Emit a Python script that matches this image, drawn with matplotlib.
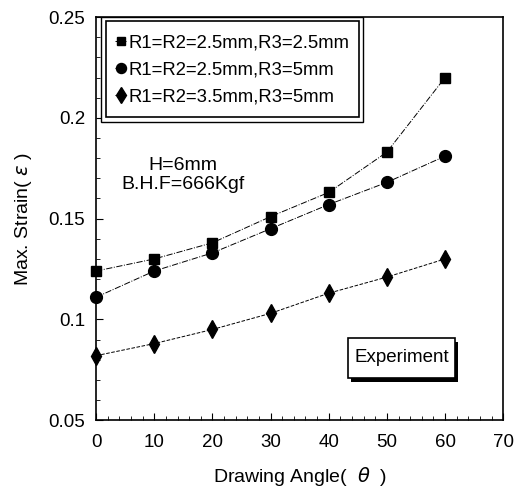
import matplotlib.pyplot as plt
from matplotlib.patches import Rectangle
from matplotlib.ticker import MultipleLocator

plt.rcParams['font.family'] = ['Liberation Sans', 'DejaVu Sans']

# drawing angle (deg)
angle = [0, 10, 20, 30, 40, 50, 60]

# max strain for each die radius combination
strain_sq = [0.124, 0.130, 0.138, 0.151, 0.163, 0.183, 0.220]
strain_ci = [0.111, 0.124, 0.133, 0.145, 0.157, 0.168, 0.181]
strain_di = [0.082, 0.088, 0.095, 0.103, 0.113, 0.121, 0.130]

labels = ['R1=R2=2.5mm,R3=2.5mm', 'R1=R2=2.5mm,R3=5mm', 'R1=R2=3.5mm,R3=5mm']

fig = plt.figure(figsize=(5.14, 4.88), dpi=100)
ax = fig.add_axes([0.187, 0.139, 0.792, 0.826])

ax.plot(angle, strain_sq, color='black', lw=0.7, ls='-.', marker='s', ms=6.5, label=labels[0], clip_on=False)
ax.plot(angle, strain_ci, color='black', lw=0.7, ls='-.', marker='o', ms=8.5, label=labels[1], clip_on=False)
ax.plot(angle, strain_di, color='black', lw=0.7, ls='--', marker='d', ms=9, label=labels[2], clip_on=False)

ax.set_xlim(0, 70)
ax.set_ylim(0.05, 0.25)
ax.set_xticks([0, 10, 20, 30, 40, 50, 60, 70])
ax.set_yticks([0.05, 0.1, 0.15, 0.2, 0.25])
ax.set_yticklabels(['0.05', '0.1', '0.15', '0.2', '0.25'])
ax.xaxis.set_minor_locator(MultipleLocator(2))
ax.yaxis.set_minor_locator(MultipleLocator(0.01))
ax.tick_params(which='both', direction='in', labelsize=13.5)
ax.tick_params(which='major', length=5)
ax.tick_params(which='minor', length=3)
ax.tick_params(axis='x', pad=10)
ax.tick_params(axis='y', pad=8)
for s in ax.spines.values():
    s.set_linewidth(1.2)

ax.set_xlabel('Drawing Angle(  $\\theta$  )', fontsize=14, labelpad=10)
ax.set_ylabel('Max. Strain( $\\epsilon$ )', fontsize=14, labelpad=10)

# legend with double frame
ax.add_patch(Rectangle((0.012, 0.739), 0.644, 0.261, transform=ax.transAxes,
                       fc='white', lw=1.0, ec='black', zorder=5))
ax.add_patch(Rectangle((0.025, 0.752), 0.620, 0.238, transform=ax.transAxes,
                       fill=False, lw=1.2, ec='black', zorder=6))
leg = ax.legend(loc='upper left', bbox_to_anchor=(0.047, 0.957), fontsize=13.3,
                frameon=False, handlelength=0.6, handletextpad=0.12, borderpad=0,
                labelspacing=0.54, borderaxespad=0, markerscale=0.85)
leg.set_zorder(7)

ax.text(0.214, 0.608, 'H=6mm\nB.H.F=666Kgf', transform=ax.transAxes, ha='center', va='center',
        fontsize=14, linespacing=1.2)

# boxed label with drop shadow
ax.add_patch(Rectangle((0.627, 0.094), 0.263, 0.099, transform=ax.transAxes, fc='black', ec='none', zorder=4))
ax.add_patch(Rectangle((0.619, 0.104), 0.263, 0.099, transform=ax.transAxes, fc='white', ec='black', lw=1.2, zorder=5))
ax.text(0.750, 0.155, 'Experiment', transform=ax.transAxes, ha='center', va='center', fontsize=13.5, zorder=6)

fig.savefig('out.png', dpi=100)
